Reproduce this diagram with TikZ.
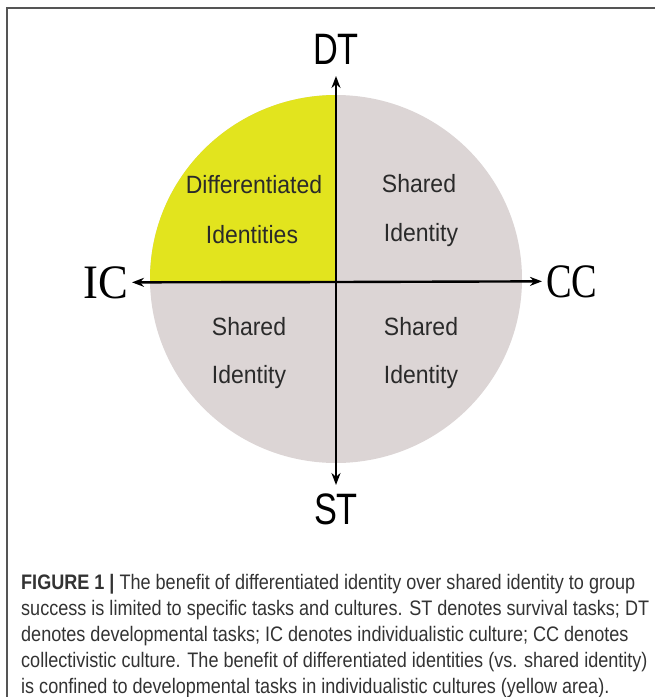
\documentclass[tikz,border=0pt]{standalone}
\usepackage{fontspec}
\usetikzlibrary{arrows.meta}
\setmainfont{Liberation Sans}
\newfontfamily\axsans[FakeStretch=0.78]{Liberation Sans}
\newfontfamily\axserif[FakeStretch=0.8]{Liberation Serif}
\newfontfamily\axserifw[FakeStretch=0.93]{Liberation Serif}
\newfontfamily\qsans[FakeStretch=0.92]{Liberation Sans}
\newfontfamily\capsans[FakeStretch=0.86]{Liberation Sans}
\definecolor{quadgrey}{HTML}{DCD5D5}
\definecolor{quadyellow}{HTML}{E2E41E}
\definecolor{qtext}{HTML}{2A2A2A}
\definecolor{captext}{HTML}{333333}
\definecolor{frame}{HTML}{555555}
\tikzset{
  axis/.style={line width=2.4pt, -{Stealth[length=12pt,width=9pt]}},
  qlabel/.style={font=\qsans\fontsize{25}{25}\selectfont, text=qtext, inner sep=0pt, anchor=base},
  axlabsans/.style={font=\axsans\fontsize{44}{44}\selectfont, text=black, inner xsep=0pt},
  axlabserif/.style={font=\axserif\fontsize{48}{48}\selectfont, text=black, inner ysep=0pt, inner xsep=4pt},
}
\begin{document}
\begin{tikzpicture}[x=1pt,y=-1pt]
\useasboundingbox (0,0) rectangle (655,697);
% frame
\draw[frame, line width=1.5pt] (655,8) -- (7,8) -- (7,697);
% disc
\fill[quadgrey] (336,279) ellipse [x radius=186pt, y radius=184pt];
\begin{scope}
  \clip (140,85) rectangle (336,282);
  \fill[quadyellow] (336,279) ellipse [x radius=186pt, y radius=184pt];
\end{scope}
% axis labels
\coordinate (O) at (336,282);
\node[axlabsans, anchor=south, inner ysep=11pt] (DT) at (336,76) {DT};
\node[axlabsans, anchor=north, inner ysep=9pt] (ST) at (336,485) {ST};
\node[axlabserif, font=\axserifw\fontsize{48}{48}\selectfont, anchor=base east] (IC) at (132,298) {IC};
\node[axlabserif, anchor=base west] (CC) at (542,297) {CC};
% axes
\draw[axis] (O) -- (DT.south);
\draw[axis] (O) -- (ST.north);
\draw[axis] (O) -- (IC.east);
\draw[axis] (O) -- (CC.west);
% quadrant texts
\node[qlabel] (q1a) at (254,193) {Differentiated};
\node[qlabel] (q1b) at (252,243) {Identities};
\node[qlabel] (q2a) at (419,192) {Shared};
\node[qlabel] (q2b) at (421,241) {Identity};
\node[qlabel] (q3a) at (249,335) {Shared};
\node[qlabel] (q3b) at (249,383) {Identity};
\node[qlabel] (q4a) at (421,335) {Shared};
\node[qlabel] (q4b) at (421,383) {Identity};
% caption (base anchor = last line)
\node[anchor=base west, inner sep=0pt, align=left, text=captext,
      font=\capsans\fontsize{21}{26}\selectfont] (cap) at (21,693)
  {{\bfseries FIGURE 1 |} The benefit of differentiated identity over shared identity to group\\
   success is limited to specific tasks and cultures. ST denotes survival tasks; DT\\
   denotes developmental tasks; IC denotes individualistic culture; CC denotes\\
   collectivistic culture. The benefit of differentiated identities (vs. shared identity)\\
   is confined to developmental tasks in individualistic cultures (yellow area).};
\end{tikzpicture}
\end{document}
